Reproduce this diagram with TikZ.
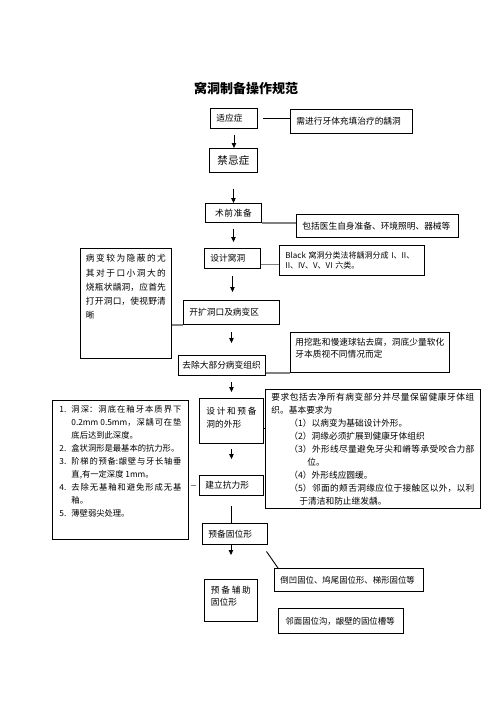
\documentclass[tikz,border=0pt]{standalone}
\usepackage{fontspec}
\setmainfont{Noto Sans CJK SC}
\usetikzlibrary{arrows.meta}
\XeTeXlinebreaklocale "zh"
\XeTeXlinebreakskip=0pt plus 3pt
\tolerance=9999
\hbadness=10000
\begin{document}
\begin{tikzpicture}[
      x=1pt, y=-1pt,
      >={Triangle[width=4.5pt,length=5pt]},
      font=\fontsize{8.7pt}{12pt}\selectfont,
      box/.style={draw, line width=0.9pt, anchor=north west, inner xsep=6pt,
        inner ysep=4pt, align=left},
      para/.style={box, align=justify},
      flow/.style={->, line width=0.9pt},
      link/.style={line width=0.9pt},
      grey/.style={draw=gray, line width=1.6pt}
    ]
    \fill[white] (0,0) rectangle (496,702);
    \node[font=\bfseries\fontsize{13pt}{15pt}\selectfont] (title) at (246,88) {窝洞制备操作规范};

    \node[box, text width=35pt, minimum height=20pt] (syz) at (210,108) {适应症};
    \node[box, text width=110pt, minimum height=24pt] (xjx) at (290,109) {需进行牙体充填治疗的龋洞};
    \node[box, align=center, text width=36pt, minimum height=24pt,
      font=\fontsize{10.5pt}{12pt}\selectfont] (jjz) at (209,148) {禁忌症};
    \node[box, align=center, text width=44pt, minimum height=19pt] (sqzb) at (205,203) {术前准备};
    \node[box, text width=150pt, minimum height=23pt] (bk) at (296,214) {包括医生自身准备、环境照明、器械等};
    \node[box, text width=44pt, minimum height=20pt] (sjwd) at (204,248) {设计窝洞};
    \node[box, text width=133pt, minimum height=30pt,
      font=\fontsize{8pt}{10.5pt}\selectfont] (blk) at (279,245) {Black 窝洞分类法将龋洞分成 I、II、\\II、IV、V、VI 六类。};
    \node[para, text width=80pt, inner xsep=5.5pt, text height=9.5pt, text depth=92.5pt,
      font=\fontsize{8.7pt}{14.25pt}\selectfont] (bb) at (80,248)
      {病变较为隐蔽的尤\linebreak 其对于口小洞大的\linebreak 烧瓶状龋洞，应首先\linebreak 打开洞口，使视野清\linebreak 晰};
    \node[box, text width=84pt, minimum height=24pt] (kk) at (183,300) {开扩洞口及病变区};
    \node[box, text width=79pt, inner xsep=4pt, minimum height=20pt] (qc) at (178,355) {去除大部分病变组织};
    \node[para, text width=149pt, inner xsep=5pt, text height=9.5pt, text depth=22.5pt] (ywc) at (290,332)
      {用挖匙和慢速球钻去腐，洞底少量软化\linebreak 牙本质视不同情况而定};
    \node[para, text width=50pt, inner xsep=7pt, text height=12.5pt, text depth=24.5pt,
      font=\fontsize{8.7pt}{13pt}\selectfont] (sjwx) at (199,398) {设计和预备\linebreak 洞的外形};
    \node[para, text width=203pt, inner ysep=3pt, text height=8.5pt, text depth=104.5pt,
      font=\fontsize{8.7pt}{12.9pt}\selectfont] (yq) at (265,389)
      {要求包括去净所有病变部分并尽量保留健康牙体组\linebreak 织。基本要求为\par
      \leftskip=18pt
      （1）以病变为基础设计外形。\par
      （2）洞缘必须扩展到健康牙体组织\par
      \hangindent=18pt\hangafter=1 （3）外形线尽量避免牙尖和嵴等承受咬合力部\linebreak 位。\par
      （4）外形线应圆缓。\par
      \hangindent=10pt\hangafter=1 （5）邻面的颊舌洞缘应位于接触区以外，以利\linebreak 于清洁和防止继发龋。\par};
    \node[para, text width=122pt, inner xsep=7pt, text height=8.5pt, text depth=122.5pt,
      font=\fontsize{8.3pt}{12.9pt}\selectfont] (lb) at (52,400)
      {\hangindent=12pt\hangafter=1\makebox[12pt][l]{1.}洞深：洞底在釉牙本质界下\linebreak 0.2mm 0.5mm，深龋可在垫\linebreak 底后达到此深度。\par
      \hangindent=12pt\hangafter=1\makebox[12pt][l]{2.}盒状洞形是最基本的抗力形。\par
      \hangindent=12pt\hangafter=1\makebox[12pt][l]{3.}阶梯的预备:龈壁与牙长轴垂\linebreak 直,有一定深度 1mm。\par
      \hangindent=12pt\hangafter=1\makebox[12pt][l]{4.}去除无基釉和避免形成无基\linebreak 釉。\par
      \hangindent=12pt\hangafter=1\makebox[12pt][l]{5.}薄壁弱尖处理。\par};
    \node[box, text width=52pt, minimum height=20pt] (jl) at (199,475) {建立抗力形};
    \node[box, text width=53pt, minimum height=21pt] (ybgw) at (202,523) {预备固位形};
    \node[box, text width=137pt, minimum height=23pt,
      font=\fontsize{8.4pt}{12pt}\selectfont] (dao) at (274,568) {倒凹固位、鸠尾固位形、梯形固位等};
    \node[para, text width=40pt, inner xsep=6.5pt, text height=10.5pt, text depth=23.5pt] (ybfz) at (204,579)
      {预备辅助\linebreak 固位形};
    \node[box, text width=111pt, inner xsep=7pt, minimum height=25pt,
      font=\fontsize{8.4pt}{12pt}\selectfont] (lm) at (278,608) {邻面固位沟，龈壁的固位槽等};

    % main column
    \draw[flow, shorten <=6pt] (syz.south) -- (syz.south |- jjz.north);
    \draw[flow, shorten <=16pt] (jjz.south) -- (jjz.south |- sqzb.north);
    \draw[flow, shorten <=6pt, shorten >=6pt] (sqzb.south) -- (sqzb.south |- sjwd.north);
    \draw[flow, shorten <=7pt, shorten >=8pt] (sjwd.south) -- (sjwd.south |- kk.north);
    \draw[flow, shorten <=7pt, shorten >=12pt] (kk.south) -- (kk.south |- qc.north);
    \draw[flow, shorten <=6pt, shorten >=6pt] (sjwx.north |- qc.south) -- (sjwx.north);
    \draw[flow, shorten <=5pt, shorten >=16pt] (sjwx.south) -- (sjwx.south |- jl.north);
    \draw[link, shorten <=10pt] (jl.south) -- (jl.south |- ybgw.north);
    \draw[flow, shorten >=24pt] (ybfz.north |- ybgw.south) -- (ybfz.north);

    % side notes
    \draw[link, shorten <=5pt] (syz.east) -- (syz.east -| xjx.west);
    \draw[grey] (sqzb.south east) -- (sqzb.south east -| bk.west);
    \draw[grey] ([yshift=-6pt]sjwd.east) -- ([yshift=-6pt]sjwd.east -| blk.west);
    \draw[grey] (bb.east |- kk.south west) -- (kk.south west);
    \draw[grey] (qc.east |- ywc.south west) -- (ywc.south west);
    \draw[link] ([yshift=-7pt]sjwx.east) -- ([yshift=-7pt]sjwx.east -| yq.west);
    \draw[grey, shorten <=2pt, shorten >=3pt] (lb.east |- jl.west) -- (jl.west);
    \draw[link, shorten <=8pt] ([xshift=-6pt]ybgw.south east) -- ([xshift=4pt]dao.north west);
  \end{tikzpicture}
\end{document}
